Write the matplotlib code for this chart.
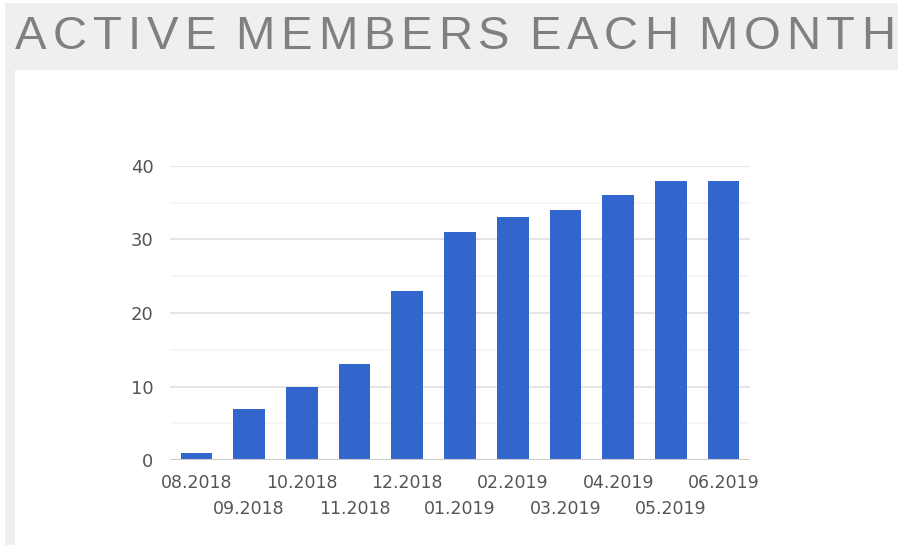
import matplotlib
matplotlib.use("Agg")
import matplotlib.pyplot as plt
from matplotlib.patches import Rectangle
from matplotlib.font_manager import FontProperties, findfont, fontManager
import numpy as np

months = ["08.2018", "09.2018", "10.2018", "11.2018", "12.2018", "01.2019",
          "02.2019", "03.2019", "04.2019", "05.2019", "06.2019"]
members = [1, 7, 10, 13, 23, 31, 33, 34, 36, 38, 38]
yticks = [0, 10, 20, 30, 40]
title = "ACTIVE MEMBERS EACH MONTH"

W, H = 898, 545
fig = plt.figure(figsize=(W / 100, H / 100), dpi=100)
fig.patch.set_facecolor("white")

panel = "#efefef"
fig.patches.append(Rectangle((5 / W, 1 - 70 / H), 1, 67 / H, transform=fig.transFigure,
                             facecolor=panel, edgecolor="none", zorder=0))
fig.patches.append(Rectangle((5 / W, 0), 10 / W, 1 - 70 / H, transform=fig.transFigure,
                             facecolor=panel, edgecolor="none", zorder=0))

# title: condensed letters with wide tracking, drawn letter by letter
names = {f.name for f in fontManager.ttflist}
tfam = "Liberation Sans Narrow" if "Liberation Sans Narrow" in names else "Liberation Sans"
tprop = FontProperties(family=tfam, size=34)
renderer = fig.canvas.get_renderer()

def ink_width(s):
    w, h, d = renderer.get_text_width_height_descent(s, tprop, ismath=False)
    return w

wA = ink_width("A")
space_w = ink_width("A A") - 2 * wA
widths = [space_w if ch == " " else ink_width(ch) for ch in title]
start, end = 15.0, 895.0
gap = (end - start - sum(widths)) / (len(title) - 1)
xpos = start
for ch, w in zip(title, widths):
    if ch != " ":
        fig.text(xpos / W, 1 - 49 / H, ch, fontproperties=tprop, color="#808080",
                 ha="left", va="baseline")
    xpos += w + gap

ax = fig.add_axes([170 / W, 1 - 460 / H, 580 / W, 294 / H])
x = np.arange(len(months))
ax.bar(x, members, width=0.6, color="#3366cc", zorder=3)
ax.set_xlim(-0.5, len(months) - 0.5)
ax.set_ylim(0, 40)

for s in ax.spines.values():
    s.set_visible(False)
ax.set_yticks(yticks)
ax.set_yticks([5, 15, 25, 35], minor=True)
ax.yaxis.grid(True, which="major", color="#e0e0e0", linewidth=1.2, zorder=0)
ax.yaxis.grid(True, which="minor", color="#f3f3f3", linewidth=1.2, zorder=0)
ax.axhline(0, color="#cccccc", linewidth=1.5, zorder=4)

lab_color = "#555555"
ax.tick_params(axis="y", which="both", length=0, pad=12, labelsize=13, labelcolor=lab_color)
ax.set_xticks(x[::2], months[::2])
ax.set_xticks(x[1::2], months[1::2], minor=True)
ax.tick_params(axis="x", which="major", length=0, pad=10.3, labelsize=12.5, labelcolor=lab_color)
ax.tick_params(axis="x", which="minor", length=0, pad=28.7, labelsize=12.5, labelcolor=lab_color)

fig.savefig("out.png", dpi=100)
